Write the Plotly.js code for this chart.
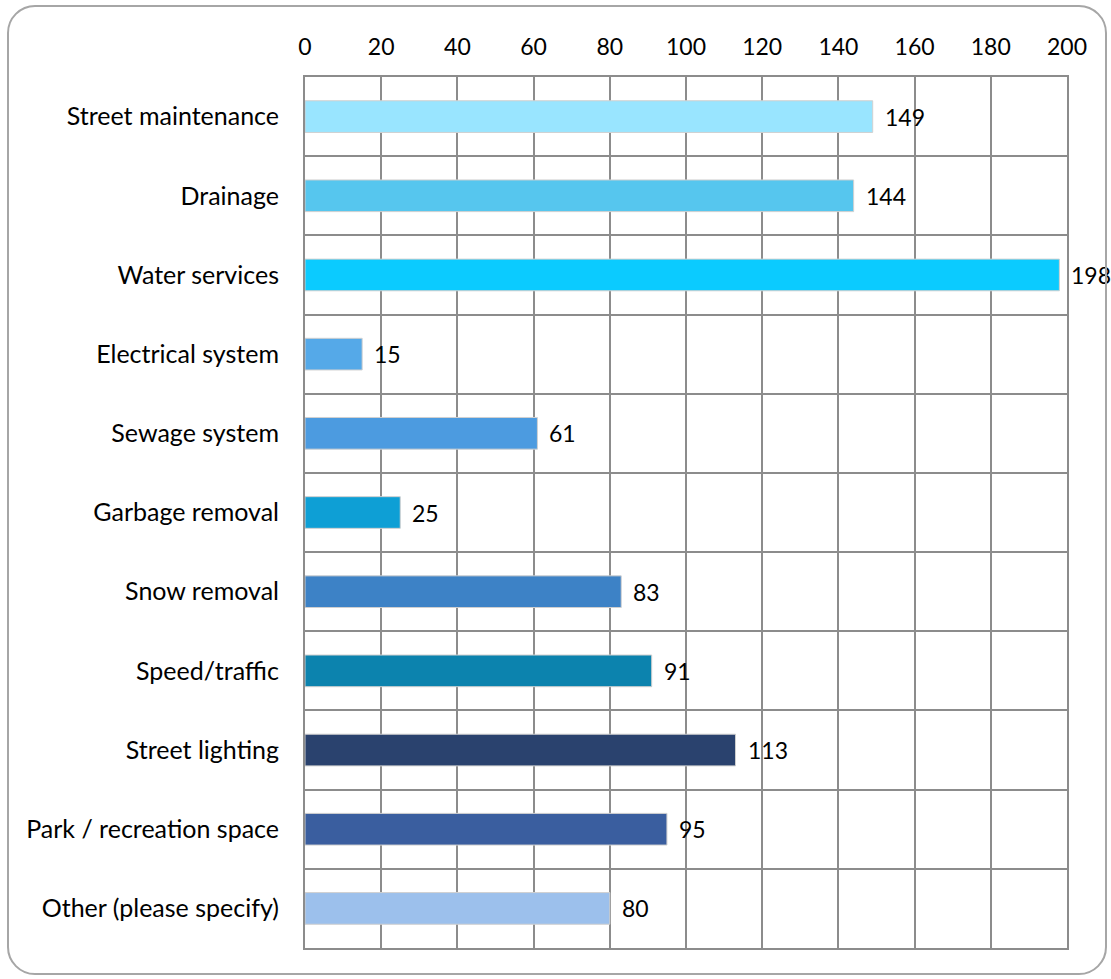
<!DOCTYPE html>
<html>
<head>
<meta charset="utf-8">
<script src="https://cdn.plot.ly/plotly-3.0.1.min.js"></script>
<style>
html,body{margin:0;padding:0;background:#fff;}
#wrap{position:relative;width:1111px;height:979px;}
#chart{position:absolute;left:0;top:0;width:1111px;height:979px;}
#frame{position:absolute;left:7px;top:5px;width:1096px;height:966px;border:2px solid #a6a6a6;border-radius:28px;pointer-events:none;}
</style>
</head>
<body>
<div id="wrap"><div id="chart"></div><div id="frame"></div></div>
<script>
const categories = ["Street maintenance","Drainage","Water services","Electrical system","Sewage system","Garbage removal","Snow removal","Speed/traffic","Street lighting","Park / recreation space","Other (please specify)"];
const values = [149,144,198,15,61,25,83,91,113,95,80];
const barColors = ["#99E5FF","#56C6EE","#0BCBFF","#55A9E8","#4C9BE0","#0E9FD5","#3D82C6","#0C83AE","#2A426E","#3A5E9F","#9CC0EC"];
const xTicks = [0,20,40,60,80,100,120,140,160,180,200];

const fam = "Lato, 'Liberation Sans', sans-serif";
const catFont = {family: fam, size: 25, color: "#000"};
const numFont = {family: fam, size: 23, color: "#000"};
const valFont = {family: fam, size: 23, color: "#000"};

const trace = {
  type: "bar",
  orientation: "h",
  y: categories,
  x: values,
  marker: {color: barColors, line: {color: "#d0d0d0", width: 1}},
  hoverinfo: "x+y",
  cliponaxis: false
};

const annotations = categories.map((c, i) => ({
  x: values[i], y: c, xref: "x", yref: "y",
  text: String(values[i]), showarrow: false, borderpad: 0,
  xanchor: "left", xshift: 11, font: valFont
}));

const layout = {
  width: 1111, height: 979,
  margin: {l: 305, r: 44, t: 77, b: 31},
  paper_bgcolor: "#fff", plot_bgcolor: "#fff",
  showlegend: false,
  bargap: 0.6,
  font: catFont,
  xaxis: {
    side: "top", range: [0, 200], tickvals: xTicks, ticktext: xTicks.map(String),
    showgrid: true, gridcolor: "#8c8c8c", gridwidth: 2,
    showline: true, linecolor: "#8c8c8c", linewidth: 2, mirror: true,
    zeroline: false, ticks: "", ticklabelstandoff: 11, tickfont: numFont, fixedrange: true
  },
  yaxis: {
    type: "category", autorange: "reversed", tickson: "boundaries",
    showgrid: true, gridcolor: "#8c8c8c", gridwidth: 2,
    showline: true, linecolor: "#8c8c8c", linewidth: 2, mirror: true,
    zeroline: false, ticks: "", ticklabelstandoff: 19, tickfont: catFont, fixedrange: true
  },
  annotations: annotations
};

Plotly.newPlot("chart", [trace], layout, {displayModeBar: false, staticPlot: true});
</script>
</body>
</html>
